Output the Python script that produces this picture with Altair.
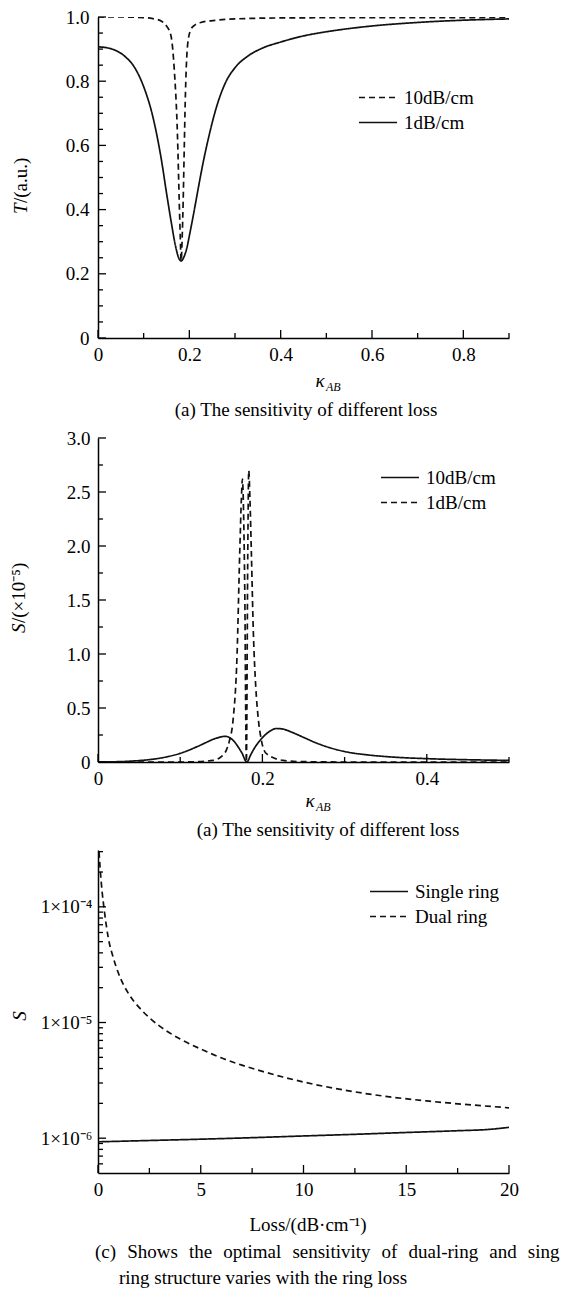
import altair as alt
import pandas as pd

FONT = "Liberation Serif"
INK = "#111111"

# ---------------- Panel 1: transmission T vs kappa_AB ----------------
k1_solid = [0, 0.02, 0.04, 0.06, 0.08, 0.10, 0.12, 0.14, 0.15, 0.16, 0.17, 0.176, 0.182,
            0.188, 0.195, 0.20, 0.21, 0.22, 0.23, 0.24, 0.26, 0.28, 0.30, 0.33, 0.36, 0.40,
            0.45, 0.50, 0.55, 0.60, 0.70, 0.80, 0.90]
t1_solid = [0.907, 0.904, 0.895, 0.876, 0.843, 0.783, 0.690, 0.545, 0.452, 0.364, 0.285, 0.252,
            0.240, 0.252, 0.283, 0.318, 0.392, 0.470, 0.545, 0.611, 0.722, 0.798, 0.842, 0.880,
            0.903, 0.922, 0.941, 0.954, 0.964, 0.972, 0.983, 0.990, 0.994]
k1_dash = [0, 0.05, 0.10, 0.12, 0.14, 0.15, 0.16, 0.167, 0.174, 0.178, 0.180, 0.182, 0.1845,
           0.1865, 0.189, 0.191, 0.196, 0.203, 0.212, 0.225, 0.26, 0.30, 0.40, 0.60, 0.90]
t1_dash = [1.0, 1.0, 0.998, 0.995, 0.986, 0.972, 0.94, 0.837, 0.632, 0.42, 0.323, 0.241, 0.32,
           0.426, 0.60, 0.735, 0.91, 0.96, 0.975, 0.983, 0.99, 0.994, 0.997, 0.998, 0.998]
p1_series = ["10dB/cm", "1dB/cm"]

# ---------------- Panel 2: sensitivity S (x1e-5) vs kappa_AB ----------------
k2_solid = [0, 0.02, 0.04, 0.06, 0.08, 0.10, 0.12, 0.13, 0.14, 0.15, 0.155, 0.16, 0.165, 0.17,
            0.175, 0.181, 0.186, 0.19, 0.195, 0.20, 0.205, 0.21, 0.217, 0.225, 0.235, 0.25,
            0.265, 0.28, 0.30, 0.33, 0.36, 0.40, 0.45, 0.50]
s2_solid = [0, 0.002, 0.008, 0.02, 0.042, 0.08, 0.14, 0.175, 0.21, 0.233, 0.238, 0.226, 0.196,
            0.145, 0.085, 0.0, 0.07, 0.125, 0.18, 0.225, 0.262, 0.29, 0.31, 0.305, 0.278, 0.228,
            0.178, 0.137, 0.097, 0.064, 0.045, 0.031, 0.021, 0.015]
k2_dash = [0, 0.10, 0.12, 0.14, 0.150, 0.156, 0.160, 0.1643, 0.1692, 0.1724, 0.1745, 0.1757,
           0.177, 0.1785, 0.1805, 0.1822, 0.1834, 0.1848, 0.1866, 0.189, 0.1919, 0.195, 0.1988,
           0.2049, 0.2252, 0.25, 0.30, 0.50]
s2_dash = [0, 0, 0.003, 0.015, 0.05, 0.108, 0.2, 0.387, 1.0, 1.93, 2.45, 2.62, 2.35, 1.62, 0.0,
           1.93, 2.70, 2.45, 1.93, 1.2, 0.70, 0.40, 0.20, 0.077, 0.015, 0.003, 0, 0]
p2_series = ["10dB/cm", "1dB/cm"]

# ---------------- Panel 3: optimal sensitivity vs ring loss ----------------
loss_single = [0, 2.5, 5, 7.5, 10, 12.5, 15, 17.5, 19, 20]
s_single = [0.93e-6, 0.955e-6, 0.98e-6, 1.01e-6, 1.045e-6, 1.08e-6, 1.12e-6, 1.16e-6,
            1.19e-6, 1.24e-6]
loss_dual = [0.05, 0.1, 0.2, 0.3, 0.5, 0.75, 1.0, 1.5, 2.0, 2.5, 3, 4, 5, 6, 7, 8, 9, 10,
             12, 14, 16, 18, 20]
s_dual = [3.0e-4, 2.2e-4, 1.35e-4, 9.5e-5, 5.4e-5, 3.6e-5, 2.65e-5, 1.76e-5, 1.35e-5, 1.1e-5,
          9.3e-6, 7.2e-6, 5.9e-6, 4.95e-6, 4.28e-6, 3.78e-6, 3.38e-6, 3.06e-6, 2.6e-6, 2.3e-6,
          2.1e-6, 1.95e-6, 1.83e-6]
p3_series = ["Single ring", "Dual ring"]

# ---------------- tick values ----------------
p1_x_major = [0, 0.2, 0.4, 0.6, 0.8]
p1_x_minor = [0.1, 0.3, 0.5, 0.7, 0.9]
p1_y_major = [0, 0.2, 0.4, 0.6, 0.8, 1.0]
p1_y_minor = [0.05, 0.1, 0.15, 0.25, 0.3, 0.35, 0.45, 0.5, 0.55, 0.65, 0.7, 0.75, 0.85, 0.9, 0.95]
p2_x_major = [0, 0.2, 0.4]
p2_x_minor = [0.1, 0.3, 0.5]
p2_y_major = [0, 0.5, 1.0, 1.5, 2.0, 2.5, 3.0]
p2_y_minor = [0.25, 0.75, 1.25, 1.75, 2.25, 2.75]
p3_x_major = [0, 5, 10, 15, 20]
p3_x_minor = [2.5, 7.5, 12.5, 17.5]
p3_y_major = [1e-6, 1e-5, 1e-4]
p3_y_minor = [6e-7, 7e-7, 8e-7, 9e-7, 2e-6, 3e-6, 4e-6, 5e-6, 6e-6, 7e-6, 8e-6, 9e-6,
              2e-5, 3e-5, 4e-5, 5e-5, 6e-5, 7e-5, 8e-5, 9e-5, 2e-4, 3e-4]

caption_c1 = "(c) Shows the optimal sensitivity of dual-ring and single-"
caption_c2 = "ring structure varies with the ring loss"

W = 411
H1, H2, H3 = 321, 324, 323
LIN_EXPR = "datum.value == 0 ? '0' : format(datum.value, '.1f')"
LOG_EXPR = ("datum.value > 5e-5 ? '1×10⁻⁴' : (datum.value > 5e-6 ? '1×10⁻⁵' : '1×10⁻⁶')")


def long_df(xa, ya, name_a, xb, yb, name_b):
    return pd.DataFrame({
        "x": list(xa) + list(xb),
        "y": list(ya) + list(yb),
        "series": [name_a] * len(xa) + [name_b] * len(xb),
    })


def axis(values, expr, pad):
    return alt.Axis(title=None, values=values, labelExpr=expr, ticks=False, tickSize=0,
                    grid=False, domainColor="black", domainWidth=1.5, labelFont=FONT,
                    labelFontSize=19, labelColor="black", labelPadding=pad,
                    labelFlush=False, labelOverlap=False)


def txt(s, x, y, size=19, italic=False, angle=0, align="center", baseline="middle", **kw):
    return alt.Chart(alt.Data(values=[{}])).mark_text(
        text=s, font=FONT, fontSize=size, fontStyle="italic" if italic else "normal",
        angle=angle, align=align, baseline=baseline, color="black", **kw
    ).encode(x=alt.value(x), y=alt.value(y))


def ticks(xs, ys, xax, yax, H, xmaj, xmin, ymaj, ymin):
    out = []
    for vals, ln in ((xmaj, 8), (xmin, 5)):
        out.append(alt.Chart(pd.DataFrame({"x": vals})).mark_rule(color="black", strokeWidth=1.3)
                   .encode(x=alt.X("x:Q", scale=xs, axis=xax), y=alt.value(H), y2=alt.value(H - ln)))
    for vals, ln in ((ymaj, 8), (ymin, 5)):
        out.append(alt.Chart(pd.DataFrame({"y": vals})).mark_rule(color="black", strokeWidth=1.3)
                   .encode(y=alt.Y("y:Q", scale=ys, axis=yax), x=alt.value(0), x2=alt.value(ln)))
    return out


def legend(lx, ly):
    return alt.Legend(orient="none", legendX=lx, legendY=ly, symbolType="stroke",
                      symbolSize=1444, symbolStrokeWidth=1.7, symbolStrokeColor=INK,
                      labelFont=FONT, labelFontSize=19, labelColor="black", labelOffset=6,
                      clipHeight=25, padding=0, rowPadding=0, labelLimit=300)


def lines(df, xs, ys, xaxis, yaxis, domain, rng, lx, ly):
    return alt.Chart(df).mark_line(color=INK, strokeWidth=1.7, clip=True,
                                   interpolate="monotone").encode(
        x=alt.X("x:Q", scale=xs, axis=xaxis),
        y=alt.Y("y:Q", scale=ys, axis=yaxis),
        strokeDash=alt.StrokeDash("series:N", title=None,
                                  scale=alt.Scale(domain=domain, range=rng),
                                  legend=legend(lx, ly)),
    )


DASH = [6, 4]
SOLID = [1, 0]

# ---- panel 1
xs1 = alt.Scale(domain=[0, 0.9], nice=False, zero=False)
ys1 = alt.Scale(domain=[0, 1.0], nice=False, zero=False)
xa1 = axis(p1_x_major, LIN_EXPR, 7)
ya1 = axis(p1_y_major, LIN_EXPR, 9)
df1 = long_df(k1_dash, t1_dash, p1_series[0], k1_solid, t1_solid, p1_series[1])
p1 = alt.layer(
    lines(df1, xs1, ys1, xa1, ya1, p1_series, [DASH, SOLID], 260, 68),
    *ticks(xs1, ys1, xa1, ya1, H1, p1_x_major, p1_x_minor, p1_y_major, p1_y_minor),
    txt("T", -77, 197, italic=True, angle=270, align="left"),
    txt("/(a.u.)", -77, 186, angle=270, align="left"),
    txt("κ", 217.5, H1 + 49, italic=True, align="left", baseline="alphabetic"),
    txt("AB", 228, H1 + 53, size=12, italic=True, align="left", baseline="alphabetic"),
    txt("(a) The sensitivity of different loss", 208, H1 + 72),
).properties(width=W, height=H1)

# ---- panel 2
xs2 = alt.Scale(domain=[0, 0.5], nice=False, zero=False)
ys2 = alt.Scale(domain=[0, 3.0], nice=False, zero=False)
xa2 = axis(p2_x_major, LIN_EXPR, 7)
ya2 = axis(p2_y_major, LIN_EXPR, 8)
df2 = long_df(k2_solid, s2_solid, p2_series[0], k2_dash, s2_dash, p2_series[1])
p2 = alt.layer(
    lines(df2, xs2, ys2, xa2, ya2, p2_series, [SOLID, DASH], 282, 27),
    *ticks(xs2, ys2, xa2, ya2, H2, p2_x_major, p2_x_minor, p2_y_major, p2_y_minor),
    txt("S", -79, 195, italic=True, angle=270, align="left"),
    txt("/(×10⁻⁵)", -79, 185, angle=270, align="left"),
    txt("κ", 207.5, H2 + 45, italic=True, align="left", baseline="alphabetic"),
    txt("AB", 218, H2 + 49, size=12, italic=True, align="left", baseline="alphabetic"),
    txt("(a) The sensitivity of different loss", 230, H2 + 68),
).properties(width=W, height=H2)

# ---- panel 3
xs3 = alt.Scale(domain=[0, 20], nice=False, zero=False)
ys3 = alt.Scale(type="log", domain=[5e-7, 3.1e-4], nice=False)
xa3 = axis(p3_x_major, "format(datum.value, 'd')", 7)
ya3 = axis(p3_y_major, LOG_EXPR, 6)
df3 = long_df(loss_single, s_single, p3_series[0], loss_dual, s_dual, p3_series[1])
justified = caption_c1.replace(" ", "\u2002\u200a")
p3 = alt.layer(
    lines(df3, xs3, ys3, xa3, ya3, p3_series, [SOLID, DASH], 271, 29),
    *ticks(xs3, ys3, xa3, ya3, H3, p3_x_major, p3_x_minor, p3_y_major, p3_y_minor),
    txt("S", -78, 166, italic=True, angle=270),
    txt("Loss/(dB·cm⁻¹)", 210, H3 + 52),
    txt(justified, -3, H3 + 79, align="left", limit=466, ellipsis="\u200b"),
    txt(caption_c2, 21, H3 + 105, align="left"),
).properties(width=W, height=H3)


def spacer(h):
    return alt.Chart(alt.Data(values=[{}])).mark_point(opacity=0).encode(
        x=alt.value(0), y=alt.value(0)).properties(width=W, height=h)


chart = alt.vconcat(p1, spacer(13), p2, spacer(1), p3, spacing=43.5, bounds="flush") \
    .resolve_scale(strokeDash="independent") \
    .configure_view(strokeWidth=0) \
    .configure_axis(labelFont=FONT, labelFontSize=19, labelColor="black") \
    .properties(padding={"left": 2, "top": 0, "right": 0, "bottom": 0}, background="white")

chart.save("out.html", embed_options={"renderer": "svg", "actions": False})
